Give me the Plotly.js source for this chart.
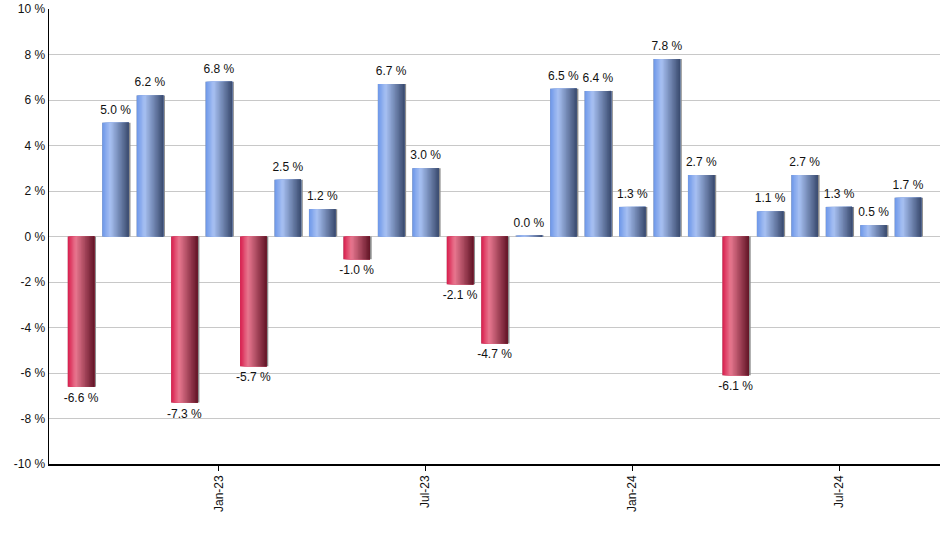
<!DOCTYPE html>
<html>
<head>
<meta charset="utf-8">
<script src="https://cdn.plot.ly/plotly-3.0.1.min.js"></script>
<style>html,body{margin:0;padding:0;background:#fff}#chart{width:940px;height:550px}</style>
</head>
<body>
<div id="chart"></div>
<script>
// Monthly returns, Sep-22 .. Sep-24
var months = ["Sep-22","Oct-22","Nov-22","Dec-22","Jan-23","Feb-23","Mar-23","Apr-23","May-23","Jun-23","Jul-23","Aug-23","Sep-23","Oct-23","Nov-23","Dec-23","Jan-24","Feb-24","Mar-24","Apr-24","May-24","Jun-24","Jul-24","Aug-24","Sep-24"];
var returns = [-6.6, 5.0, 6.2, -7.3, 6.8, -5.7, 2.5, 1.2, -1.0, 6.7, 3.0, -2.1, -4.7, 0.04, 6.5, 6.4, 1.3, 7.8, 2.7, -6.1, 1.1, 2.7, 1.3, 0.5, 1.7];
var tickLabels = ["Jan-23", "Jul-23", "Jan-24", "Jul-24"];
var yTicks = [-10, -8, -6, -4, -2, 0, 2, 4, 6, 8, 10];

var idx = months.map(function(_, i){ return i; });
var tickIdx = tickLabels.map(function(t){ return months.indexOf(t); });

function hex(c){ return [parseInt(c.substr(1,2),16), parseInt(c.substr(3,2),16), parseInt(c.substr(5,2),16)]; }
function mix(a, b, t){ var A=hex(a), B=hex(b); return 'rgb(' + [0,1,2].map(function(k){ return Math.round(A[k]+(B[k]-A[k])*t); }).join(',') + ')'; }
function grad(stops, t){
  for (var i=0;i<stops.length-1;i++){
    if (t <= stops[i+1][0]) {
      var u = (t - stops[i][0]) / (stops[i+1][0] - stops[i][0]);
      return mix(stops[i][1], stops[i+1][1], u);
    }
  }
  return stops[stops.length-1][1];
}
var blueStops = [[0,'#6c96e8'],[0.3,'#a8c1f3'],[1,'#394a6e']];
var redStops  = [[0,'#d81c4c'],[0.3,'#e87890'],[1,'#621426']];

var BW = 0.77, N = 20;
var sw = BW / N;
var traces = [];
// thin shadow edge on the right (drawn first, partly covered)
traces.push({
  type: 'bar', x: idx, y: returns, width: BW + 0.05, offset: -BW/2,
  marker: {color: 'rgb(140,140,140)', line: {width: 0}},
  hoverinfo: 'skip', showlegend: false
});
for (var k=0;k<N;k++){
  var t = (k + 0.5) / N;
  var cb = grad(blueStops, t), cr = grad(redStops, t);
  traces.push({
    type: 'bar', x: idx, y: returns,
    width: BW - k*sw, offset: -BW/2 + k*sw,
    marker: {color: returns.map(function(v){ return v >= 0 ? cb : cr; }), line: {width: 0}},
    hoverinfo: 'skip', showlegend: false
  });
}
// value labels
traces.push({
  type: 'scatter', mode: 'markers+text', x: idx, y: returns,
  text: returns.map(function(v){ return v.toFixed(1) + ' %'; }),
  textposition: returns.map(function(v){ return v >= 0 ? 'top center' : 'bottom center'; }),
  marker: {size: 8, opacity: 0},
  textfont: {family: 'Liberation Sans, Arial, sans-serif', size: 12, color: '#111'},
  cliponaxis: false, hoverinfo: 'skip', showlegend: false
});

var layout = {
  width: 940, height: 550,
  margin: {l: 49, r: 0, t: 9, b: 86},
  paper_bgcolor: '#fff', plot_bgcolor: '#fff',
  barmode: 'overlay',
  showlegend: false,
  font: {family: 'Liberation Sans, Arial, sans-serif', size: 12, color: '#111'},
  xaxis: {
    type: 'linear', range: [-0.93, 24.93],
    tickmode: 'array', tickvals: tickIdx, ticktext: tickLabels,
    tickangle: -90, ticks: 'outside', ticklen: 5, tickcolor: '#000',
    showgrid: false, zeroline: false,
    showline: true, linecolor: '#000', linewidth: 1.5,
    tickfont: {size: 12, color: '#111'}
  },
  yaxis: {
    range: [-10, 10],
    tickmode: 'array', tickvals: yTicks, ticktext: yTicks.map(function(v){ return v + ' %'; }),
    showgrid: true, gridcolor: '#c8c8c8', gridwidth: 1,
    zeroline: true, zerolinecolor: '#c8c8c8', zerolinewidth: 1,
    showline: true, linecolor: '#000', linewidth: 1.5,
    ticks: '', tickfont: {size: 12, color: '#111'}
  }
};
Plotly.newPlot('chart', traces, layout, {staticPlot: true, displayModeBar: false});
</script>
</body>
</html>
